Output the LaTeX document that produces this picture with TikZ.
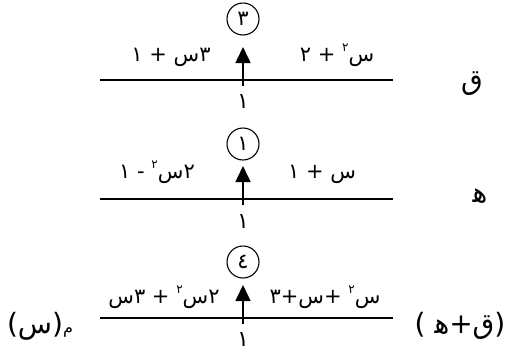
\documentclass[tikz,border=0pt]{standalone}
\usepackage{fontspec}
\usetikzlibrary{arrows.meta}
\newfontfamily\arabicfont[Script=Arabic]{DejaVu Sans}
\TeXXeTstate=1
\newcommand{\artxt}[1]{{\arabicfont\beginR #1\endR}}
\newcommand{\sqr}{\raisebox{0.8ex}{\fontsize{12}{12}\selectfont ٢}}
\newcommand{\hehini}{ه^^^^200d}
\tikzset{
  numline/.style={line width=2.2pt},
  uparrow/.style={line width=1.6pt,-{Triangle[width=15pt,length=16pt]}},
  ringnum/.style={circle,draw,line width=1.1pt,minimum size=32pt,inner sep=0pt,font=\fontsize{21}{21}\selectfont\arabicfont},
  poly/.style={anchor=base,inner sep=0pt,font=\fontsize{21}{22}\selectfont},
  below1/.style={anchor=center,inner sep=0pt,font=\fontsize{22}{22}\selectfont},
  biglabel/.style={anchor=center,inner sep=0pt,font=\fontsize{28}{28}\selectfont},
}
\begin{document}
\begin{tikzpicture}[x=1pt,y=-1pt]
\useasboundingbox[fill=white] (0,0) rectangle (527,354);
% ---------- row 1 ----------
\coordinate (l1) at (100,80);
\coordinate (r1) at (393,80);
\draw[numline] (l1) -- (r1);
\coordinate (a1s) at (243,86);
\coordinate (a1t) at (243,47);
\draw[uparrow] (a1s) -- (a1t);
\node[ringnum] (c1) at (243,19) {\artxt{٣}};
\node[below1] (u1) at (243,102) {\artxt{١}};
\node[poly] (p1l) at (171,61) {\artxt{٣س + ١}};
\node[poly] (p1r) at (337,61) {\artxt{س\sqr{} + ٢}};
\node[biglabel] (q) at (472,84) {\artxt{ق}};
% ---------- row 2 ----------
\coordinate (l2) at (100,199);
\coordinate (r2) at (393,199);
\draw[numline] (l2) -- (r2);
\coordinate (a2s) at (243,205);
\coordinate (a2t) at (243,166);
\draw[uparrow] (a2s) -- (a2t);
\node[ringnum] (c2) at (243,144) {\artxt{١}};
\node[below1] (u2) at (243,222) {\artxt{١}};
\node[poly] (p2l) at (157,178) {\artxt{٢س\sqr{} - ١}};
\node[poly] (p2r) at (322,178) {\artxt{س + ١}};
\node[biglabel] (h) at (480,196) {\artxt{\hehini}};
% ---------- row 3 ----------
\coordinate (l3) at (100,318);
\coordinate (r3) at (393,318);
\draw[numline] (l3) -- (r3);
\coordinate (a3s) at (243,324);
\coordinate (a3t) at (243,285);
\draw[uparrow] (a3s) -- (a3t);
\node[ringnum] (c3) at (243,262) {\artxt{٤}};
\node[below1] (u3) at (243,340) {\artxt{١}};
\node[poly] (p3l) at (164,303) {\artxt{٢س\sqr{} + ٣س}};
\node[poly] (p3r) at (325,303) {\artxt{س\sqr{} +س+٣}};
\node[biglabel] (qh) at (460,326) {\artxt{(ق+\hehini{} )}};
\node[biglabel] (m) at (40,326) {\artxt{{\fontsize{16}{16}\selectfont م}(س)}};
\end{tikzpicture}
\end{document}
